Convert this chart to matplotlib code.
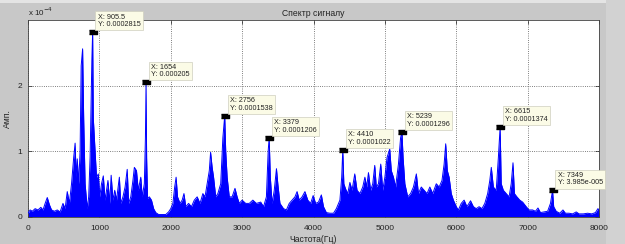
import numpy as np
import matplotlib.pyplot as plt
from matplotlib.patches import Rectangle

# ---- data (amplitudes in units of 1e-4) ----
freq = [0, 30, 60, 100, 140, 180, 210, 240, 270, 300, 330, 370, 410, 450, 490, 520, 550, 580,
        610, 640, 660, 675, 690, 710, 730, 745, 765, 780, 800, 830, 850, 870, 895, 905.5, 915,
        938, 960, 985, 1005, 1030, 1055, 1080, 1120, 1145, 1165, 1190, 1215, 1240, 1280, 1300,
        1330, 1360, 1390, 1410, 1440, 1470, 1490, 1520, 1545, 1580, 1600, 1630, 1645, 1654,
        1662, 1675, 1700, 1730, 1760, 1790, 1830, 1880, 1930, 1970, 2000, 2030, 2055, 2075,
        2095, 2130, 2160, 2185, 2210, 2250, 2290, 2330, 2370, 2410, 2450, 2480, 2510, 2540,
        2558, 2580, 2600, 2630, 2660, 2700, 2730, 2756, 2770, 2790, 2820, 2860, 2900, 2930,
        2960, 3000, 3050, 3100, 3150, 3200, 3260, 3300, 3340, 3365, 3379, 3395, 3420, 3450,
        3481, 3500, 3530, 3580, 3620, 3660, 3700, 3740, 3770, 3800, 3840, 3880, 3920, 3960,
        3995, 4030, 4070, 4110, 4140, 4180, 4230, 4280, 4320, 4370, 4395, 4410, 4425, 4450,
        4480, 4510, 4540, 4578, 4610, 4650, 4690, 4720, 4745, 4770, 4800, 4830, 4858, 4880,
        4910, 4942, 4970, 5000, 5030, 5068, 5090, 5120, 5150, 5190, 5220, 5239, 5255, 5280,
        5320, 5360, 5400, 5441, 5470, 5510, 5550, 5590, 5630, 5670, 5720, 5760, 5800, 5830,
        5852, 5875, 5900, 5930, 5960, 6000, 6030, 6070, 6110, 6150, 6200, 6240, 6280, 6320,
        6360, 6400, 6440, 6470, 6491, 6520, 6560, 6590, 6615, 6630, 6660, 6700, 6740, 6770,
        6795, 6815, 6850, 6890, 6930, 6980, 7020, 7070, 7110, 7145, 7180, 7230, 7280, 7320,
        7349, 7365, 7400, 7450, 7495, 7530, 7580, 7630, 7681, 7720, 7780, 7840, 7900, 7950,
        7985, 8000]
amp = [0.05, 0.10, 0.08, 0.12, 0.10, 0.14, 0.10, 0.20, 0.29, 0.18, 0.10, 0.08, 0.10, 0.07, 0.20,
       0.12, 0.38, 0.20, 0.50, 0.90, 1.12, 0.60, 0.88, 0.50, 1.00, 2.30, 2.56, 1.50, 0.50, 0.12,
       0.30, 0.90, 2.40, 2.815, 1.50, 1.03, 0.60, 0.65, 0.30, 0.50, 0.62, 0.25, 0.55, 0.20, 0.63,
       0.25, 0.40, 0.25, 0.60, 0.20, 0.30, 0.45, 0.72, 0.20, 0.30, 0.55, 0.75, 0.70, 0.40, 0.60,
       0.30, 0.50, 1.20, 2.05, 0.90, 0.28, 0.30, 0.25, 0.12, 0.06, 0.03, 0.03, 0.03, 0.07, 0.12,
       0.20, 0.45, 0.60, 0.30, 0.20, 0.25, 0.35, 0.15, 0.20, 0.15, 0.25, 0.30, 0.20, 0.35, 0.30,
       0.50, 0.70, 0.98, 0.75, 0.60, 0.30, 0.35, 0.50, 1.20, 1.538, 1.00, 0.60, 0.30, 0.30, 0.43,
       0.30, 0.20, 0.25, 0.20, 0.20, 0.25, 0.20, 0.22, 0.15, 0.30, 1.00, 1.206, 0.60, 0.20, 0.40,
       0.73, 0.50, 0.20, 0.12, 0.10, 0.20, 0.25, 0.30, 0.38, 0.25, 0.30, 0.38, 0.25, 0.20, 0.32,
       0.20, 0.22, 0.33, 0.15, 0.06, 0.05, 0.05, 0.12, 0.25, 0.60, 1.022, 0.50, 0.42, 0.35, 0.52,
       0.40, 0.65, 0.40, 0.35, 0.45, 0.60, 0.45, 0.67, 0.40, 0.50, 0.78, 0.45, 0.50, 0.80, 0.40,
       0.60, 0.90, 1.03, 0.70, 0.60, 0.45, 0.80, 1.20, 1.296, 0.90, 0.50, 0.30, 0.35, 0.45, 0.65,
       0.35, 0.45, 0.40, 0.35, 0.45, 0.35, 0.50, 0.45, 0.55, 0.80, 1.11, 0.70, 0.60, 0.35, 0.25,
       0.15, 0.10, 0.20, 0.25, 0.15, 0.24, 0.15, 0.12, 0.15, 0.12, 0.20, 0.35, 0.55, 0.75, 0.45,
       0.40, 0.90, 1.374, 0.50, 0.40, 0.35, 0.30, 0.50, 0.82, 0.35, 0.30, 0.25, 0.22, 0.15, 0.10,
       0.10, 0.08, 0.13, 0.06, 0.07, 0.08, 0.20, 0.3985, 0.15, 0.08, 0.05, 0.10, 0.05, 0.05, 0.04,
       0.07, 0.04, 0.04, 0.05, 0.04, 0.06, 0.12, 0.10]
scale = 1e-4

tip_x = [905.5, 1654, 2756, 3379, 4410, 5239, 6615, 7349]
tip_y = [0.0002815, 0.000205, 0.0001538, 0.0001206, 0.0001022, 0.0001296, 0.0001374, 3.985e-05]
tip_xtext = ['905.5', '1654', '2756', '3379', '4410', '5239', '6615', '7349']
tip_ytext = ['0.0002815', '0.000205', '0.0001538', '0.0001206', '0.0001022', '0.0001296',
             '0.0001374', '3.985e-005']

xticks = [0, 1000, 2000, 3000, 4000, 5000, 6000, 7000, 8000]
yticks = [0, 1, 2]

title = 'Спектр сигналу'
xlabel = 'Частота(Гц)'
ylabel = 'Амп.'

# ---- figure ----
W, H = 625, 244
plt.rcParams['font.family'] = ['Liberation Sans', 'DejaVu Sans']
fig = plt.figure(figsize=(W / 100, H / 100), dpi=100, facecolor='#c8c8c8')
# lighter strips at top and right like the screenshot
fig.patches.append(Rectangle((0, 1 - 3 / H), 1, 3 / H, transform=fig.transFigure,
                             facecolor='#e4e4e4', edgecolor='none', zorder=-1))
fig.patches.append(Rectangle((606 / W, 0), 19 / W, 1, transform=fig.transFigure,
                             facecolor='#d2d2d2', edgecolor='none', zorder=-1))

L, R, T, B = 28, 599, 20, 216.5
ax = fig.add_axes([L / W, 1 - B / H, (R - L) / W, (B - T) / H])
ax.set_facecolor('white')

f = np.array(freq)
a = np.array(amp) * scale
ax.fill_between(f, 0, a, color='#0000ff', lw=0, zorder=2)
ax.plot(f, a, color='#0000ff', lw=0.7, zorder=3)

ax.set_xlim(0, 8000)
ax.set_ylim(0, 3e-4)
ax.set_xticks(xticks)
ax.set_xticklabels([str(v) for v in xticks])
ax.set_yticks([v * scale for v in yticks])
ax.set_yticklabels([str(v) for v in yticks])
ax.tick_params(direction='in', length=3, width=0.5, labelsize=6, colors='#222222', pad=4)
ax.tick_params(axis='x', pad=6)
ax.tick_params(top=True, right=True)
ax.grid(True, linestyle=':', color='#555555', linewidth=0.6)
ax.set_axisbelow(True)
for s in ax.spines.values():
    s.set_color('#404040')
    s.set_linewidth(0.6)

ax.set_title(title, fontsize=6.2, pad=3, color='#222222')
ax.set_xlabel(xlabel, fontsize=6.2, labelpad=2, color='#222222')
ax.set_ylabel(ylabel, fontsize=6.2, labelpad=4, color='#222222')

fig.text(L / W, 1 - 18.5 / H, r'x 10$^{-4}$', fontsize=5.8, ha='left', va='bottom', color='#222222')

# data tips
mk = [(-1, -0.55), (1, -0.55), (1, 0.55), (-1, 0.55)]
for x, y, xt, yt in zip(tip_x, tip_y, tip_xtext, tip_ytext):
    ax.plot([x], [y], marker=mk, markersize=5.5, color='black', zorder=6, clip_on=False)
    ax.annotate('X: ' + xt + '\nY: ' + yt, xy=(x, y), xytext=(5, 4), textcoords='offset pixels',
                ha='left', va='bottom', fontsize=5.2, linespacing=1.1, color='#222222',
                annotation_clip=False, zorder=7,
                bbox=dict(boxstyle='square,pad=0.3', facecolor='#fbfbe6', edgecolor='#cfcfbf', lw=0.5))

fig.savefig('out.png', dpi=100, facecolor=fig.get_facecolor())
